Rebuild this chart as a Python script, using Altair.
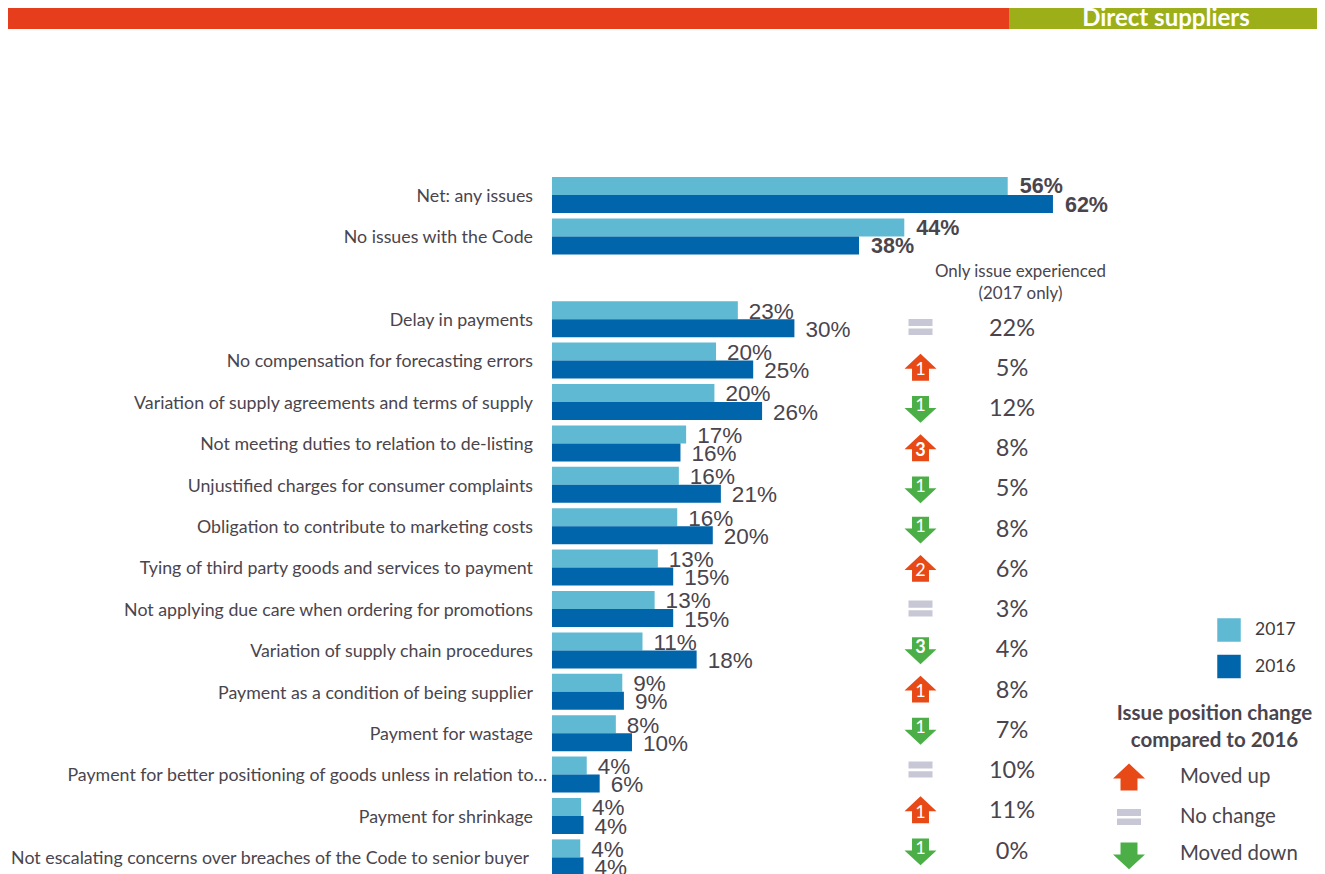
import altair as alt
import pandas as pd

ROWS = ["Net: any issues", "No issues with the Code", " ",
        "Delay in payments", "No compensation for forecasting errors",
        "Variation of supply agreements and terms of supply",
        "Not meeting duties to relation to de-listing",
        "Unjustified charges for consumer complaints",
        "Obligation to contribute to marketing costs",
        "Tying of third party goods and services to payment",
        "Not applying due care when ordering for promotions",
        "Variation of supply chain procedures",
        "Payment as a condition of being supplier",
        "Payment for wastage",
        "Payment for better positioning of goods unless in relation to…",
        "Payment for shrinkage",
        "Not escalating concerns over breaches of the Code to senior buyer"]
TOP = ROWS[:2]
ISSUES = ROWS[3:]

V2017 = [56.4, 43.6, 23.0, 20.3, 20.1, 16.6, 15.7, 15.5, 13.1, 12.7, 11.2, 8.7, 7.9, 4.3, 3.6, 3.5]
V2016 = [62.0, 38.0, 30.0, 24.9, 26.0, 15.9, 20.9, 19.9, 15.0, 15.0, 17.9, 8.9, 9.9, 5.9, 3.9, 3.9]
L2017 = [56, 44, 23, 20, 20, 17, 16, 16, 13, 13, 11, 9, 8, 4, 4, 4]
L2016 = [62, 38, 30, 25, 26, 16, 21, 20, 15, 15, 18, 9, 10, 6, 4, 4]

ONLY = [22, 5, 12, 8, 5, 8, 6, 3, 4, 8, 7, 10, 11, 0]
MOVE = ["No change", "Moved up", "Moved down", "Moved up", "Moved down", "Moved down", "Moved up",
        "No change", "Moved down", "Moved up", "Moved down", "No change", "Moved up", "Moved down"]
STEPS = ["", "1", "1", "3", "1", "1", "2", "", "3", "1", "1", "", "1", "1"]

MOVES = ["Moved up", "No change", "Moved down"]
SERIES = ["2017", "2016"]
C_SERIES = ["#5FB9D3", "#0065AB"]
C_MOVES = ["#E84A17", "#C8C7D6", "#4BAE47"]
TXT = "#4A454D"
CAT_FONT = "Lato"
NUM_FONT = "Liberation Sans"

UP = "M0,-0.84 L1,0.094 L0.53,0.094 L0.53,0.84 L-0.53,0.84 L-0.53,0.094 L-1,0.094 Z"
EQ = "M-0.75,-0.5 L0.75,-0.5 L0.75,-0.06 L-0.75,-0.06 Z M-0.75,0.1 L0.75,0.1 L0.75,0.5 L-0.75,0.5 Z"
DOWN = "M0,0.96 L-1,0.026 L-0.53,0.026 L-0.53,-0.72 L0.53,-0.72 L0.53,0.026 L1,0.026 Z"

names = [r for r in ROWS if r != " "]
bars = pd.DataFrame({
    "row": names * 2,
    "series": ["2017"] * len(names) + ["2016"] * len(names),
    "value": V2017 + V2016,
    "label": [f"{v}%" for v in L2017 + L2016],
})
issues = pd.DataFrame({"row": ISSUES, "only": [f"{v}%" for v in ONLY], "move": MOVE, "step": STEPS})

x_enc = alt.X("value:Q", scale=alt.Scale(domain=[0, 100], range=[544, 1352]), axis=None)
y_band = alt.Scale(type="band", domain=ROWS, range=[166.3, 870.1], paddingInner=0.13, paddingOuter=0.065)
y_enc = alt.Y("row:N", scale=y_band, axis=None)
y_off = alt.YOffset("series:N", scale=alt.Scale(type="band", domain=SERIES, paddingInner=0, paddingOuter=0))
y_only = alt.Y("row:N", scale=alt.Scale(type="point", domain=ISSUES, range=[319, 842], padding=0), axis=None)

bar_layer = alt.Chart(bars).mark_bar().encode(
    x=x_enc, y=y_enc, yOffset=y_off,
    color=alt.Color("series:N", scale=alt.Scale(domain=SERIES, range=C_SERIES),
                    legend=alt.Legend(orient="none", legendX=1209, legendY=610, title=None,
                                      symbolType="square", symbolSize=552, symbolStrokeWidth=0,
                                      labelFont=CAT_FONT, labelFontSize=17.5, labelColor="#403A3C",
                                      labelOffset=14, rowPadding=12.5)),
)
num_reg = alt.Chart(bars).transform_filter(
    alt.FieldOneOfPredicate(field="row", oneOf=ISSUES)
).mark_text(align="left", baseline="middle", dx=11, dy=1.5, font=NUM_FONT, fontSize=22.5, color=TXT).encode(
    x=x_enc, y=y_enc, yOffset=y_off, text="label:N")
num_bold = alt.Chart(bars).transform_filter(
    alt.FieldOneOfPredicate(field="row", oneOf=TOP)
).mark_text(align="left", baseline="middle", dx=12, dy=1.5, font=NUM_FONT, fontSize=21.5, fontWeight="bold",
            color=TXT).encode(x=x_enc, y=y_enc, yOffset=y_off, text="label:N")

cats = pd.DataFrame({"row": names})
LONG = [ROWS[14]]
SHORT = [ROWS[16]]
NORMAL = [r for r in names if r not in LONG + SHORT]


def cat_layer(subset, right):
    return alt.Chart(cats).transform_filter(
        alt.FieldOneOfPredicate(field="row", oneOf=subset)
    ).mark_text(align="right", baseline="middle", dy=1.8, font=CAT_FONT, fontSize=17.8, color=TXT).encode(
        x=alt.value(right), y=y_enc, text="row:N")


LEG = dict(orient="none", legendX=1105, legendY=753, title=None, symbolSize=1024, symbolStrokeWidth=0,
           labelFont=CAT_FONT, labelFontSize=20.4, labelColor=TXT, labelOffset=35, rowPadding=10)

arrows = alt.Chart(issues).mark_point(filled=True, size=1024, opacity=1, strokeWidth=0).encode(
    x=alt.value(912.5), y=y_only,
    shape=alt.Shape("move:N", scale=alt.Scale(domain=MOVES, range=[UP, EQ, DOWN]), legend=alt.Legend(**LEG)),
    color=alt.Color("move:N", scale=alt.Scale(domain=MOVES, range=C_MOVES), legend=alt.Legend(**LEG)),
)


def step_layer(moves, steps, weight, dy):
    return alt.Chart(issues).transform_filter(
        alt.FieldOneOfPredicate(field="move", oneOf=moves)
    ).transform_filter(
        alt.FieldOneOfPredicate(field="step", oneOf=steps)
    ).mark_text(align="center", baseline="middle", dy=dy, font=CAT_FONT, fontSize=18, fontWeight=weight,
                color="white").encode(x=alt.value(912.5), y=y_only, text="step:N")


only_layer = alt.Chart(issues).mark_text(align="center", baseline="middle", dy=1.5, font=CAT_FONT, fontSize=23.5,
                                         color=TXT).encode(x=alt.value(1004), y=y_only, text="only:N")

head_left = alt.Chart(pd.DataFrame({"k": ["a"]})).mark_rect(color="#E63D1C").encode(
    x=alt.value(0), x2=alt.value(1001), y=alt.value(0), y2=alt.value(21))
head_right = alt.Chart(pd.DataFrame({"k": ["a"]})).mark_rect(color="#9DAF18").encode(
    x=alt.value(1001), x2=alt.value(1309), y=alt.value(0), y2=alt.value(21))


def note(text, x, y, size, color=TXT, weight="normal"):
    return alt.Chart(pd.DataFrame({"t": [text]})).mark_text(
        align="center", baseline="middle", font=CAT_FONT, fontSize=size, fontWeight=weight, color=color
    ).encode(x=alt.value(x), y=alt.value(y), text="t:N")


chart = alt.layer(
    head_left, head_right,
    note("Direct suppliers", 1158, 10.5, 24, "white", "bold"),
    bar_layer, num_reg, num_bold,
    cat_layer(NORMAL, 525), cat_layer(LONG, 539), cat_layer(SHORT, 521),
    note("Only issue experienced", 1012.5, 264, 16.9),
    note("(2017 only)", 1012.5, 286, 16.9),
    arrows,
    step_layer(["Moved up"], ["1"], "normal", 3),
    step_layer(["Moved down"], ["1"], "normal", -1),
    step_layer(["Moved up"], ["2"], "normal", 3),
    step_layer(["Moved up"], ["3"], "bold", 3),
    step_layer(["Moved down"], ["3"], "bold", -1),
    only_layer,
    note("Issue position change", 1206.5, 706, 20.5, "#4A454D", "bold"),
    note("compared to 2016", 1206.5, 733, 20.5, "#4A454D", "bold"),
).resolve_scale(y="independent", color="independent", shape="independent").properties(
    width=1309, height=866, padding=0, autosize=alt.AutoSizeParams(type="none"),
).configure_view(stroke=None)

chart.save("out.html", embed_options={"renderer": "svg", "actions": False})
